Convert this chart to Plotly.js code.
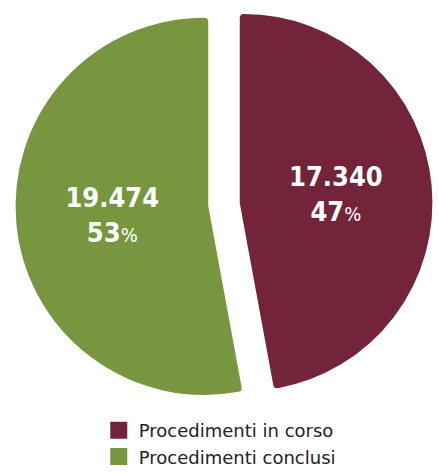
<!DOCTYPE html>
<html>
<head>
<meta charset="utf-8">
<script src="https://cdn.plot.ly/plotly-3.0.1.min.js"></script>
<style>html,body{margin:0;padding:0;background:#fff;}#chart{width:439px;height:475px;}</style>
</head>
<body>
<div id="chart"></div>
<script>
const categories = ['Procedimenti in corso', 'Procedimenti conclusi'];
const values = [17340, 19474];
const percentLabels = ['47', '53'];
const colors = ['#73243B', '#77963F'];

const trace = {
  type: 'pie',
  labels: categories,
  values: values,
  text: percentLabels,
  sort: false,
  direction: 'clockwise',
  rotation: 0,
  pull: [0.1075, 0.1075],
  marker: {colors: colors, line: {width: 8, color: colors}},
  textinfo: 'text',
  texttemplate: "<b>%{value:,}</b><br><b>%{text}</b><span style='font-size:20px'>%</span>",
  textposition: 'inside',
  insidetextorientation: 'horizontal',
  insidetextfont: {family: '"DejaVu Sans Condensed", "Liberation Sans Narrow", sans-serif', size: 27, color: '#ffffff'},
  hoverinfo: 'none',
  domain: {x: [17/439, 431/439], y: [1 - 409/475, 1]}
};

const layout = {
  width: 439,
  height: 475,
  margin: {l: 0, r: 0, t: 0, b: 0},
  paper_bgcolor: '#ffffff',
  separators: ',.',
  showlegend: true,
  legend: {
    x: 0.225, xanchor: 'left',
    y: 0, yanchor: 'bottom',
    font: {family: '"DejaVu Sans", sans-serif', size: 18, color: '#222222'},
    tracegroupgap: 0
  }
};

Plotly.newPlot('chart', [trace], layout, {displayModeBar: false, staticPlot: true});
</script>
</body>
</html>
